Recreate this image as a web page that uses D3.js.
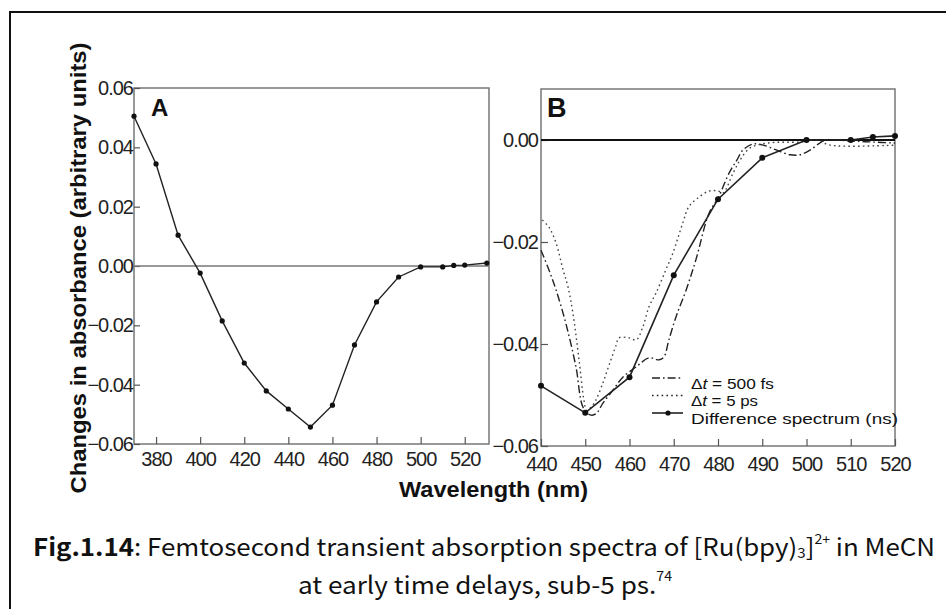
<!DOCTYPE html>
<html>
<head>
<meta charset="utf-8" />
<script src="https://d3js.org/d3.v7.min.js"></script>
<style>
    body { margin: 0; background: #fff; }
    svg text { font-family: "Liberation Sans", Arial, sans-serif; fill: #111; }
    .axis path { stroke: #777; stroke-width: 1.5px; }
    .axis line { stroke: #555; stroke-width: 1.2px; }
    .axis text { font-size: 20px; letter-spacing: -1px; fill: #222; }
    .caption text { font-family: "Noto Sans CJK SC", "Noto Sans", sans-serif; }
</style>
</head>
<body>
<svg width="946" height="609"></svg>
<script>

// panel A: difference spectrum, full range
var wlA = [370, 380, 390, 400, 410, 420, 430, 440, 450, 460, 470, 480, 490, 500, 510, 515, 520, 530];
var absA = [0.0505, 0.0344, 0.0104, -0.0024, -0.0185, -0.0327, -0.0421, -0.0482, -0.0543, -0.0469,
            -0.0266, -0.0121, -0.0037, -0.0003, -0.0003, 0.0002, 0.0003, 0.001];

// panel B: difference spectrum (ns) sampled points
var wlDiff = [440, 450, 460, 470, 480, 490, 500, 510, 515, 520];
var absDiff = [-0.0482, -0.0535, -0.0465, -0.0265, -0.0116, -0.0035, 0.0, 0.0, 0.0006, 0.0008];

// panel B: dt = 500 fs (traced)
var wl500fs = [440, 441.8, 443.4, 445.6, 447.9, 449.5, 451.1, 452.4, 454, 456.3, 458.5, 461.5, 464.4,
               466.7, 467.8, 468.9, 470.5, 472.8, 475, 478, 480, 482.5, 484.3, 485.6, 487.9, 490.2,
               493.3, 496.3, 498.5, 500.8, 503, 504.6, 510, 515, 520];
var abs500fs = [-0.0216, -0.0255, -0.0294, -0.0359, -0.0445, -0.0524, -0.0539, -0.0537, -0.0516,
                -0.049, -0.0465, -0.0445, -0.0427, -0.0431, -0.0425, -0.0392, -0.0347, -0.0294,
                -0.0235, -0.0143, -0.0114, -0.0065, -0.0039, -0.002, -0.0008, -0.001, -0.002,
                -0.0029, -0.0029, -0.002, -0.0006, 0, -0.0002, -0.0004, -0.0006];

// panel B: dt = 5 ps (traced)
var wl5ps = [440.3, 441.8, 443.4, 445, 446.1, 447.2, 448.6, 449.7, 450.3, 451.2, 452.4, 454, 455.4,
             457, 457.6, 459.9, 461.5, 463, 464.4, 466, 468.2, 469.8, 472.1, 473.4, 475.7, 478, 480,
             481.1, 483.4, 485, 487.2, 491.1, 498.5, 502.4, 505.3, 520];
var abs5ps = [-0.0157, -0.0171, -0.0202, -0.0255, -0.0288, -0.0339, -0.0431, -0.051, -0.053, -0.0525,
              -0.051, -0.0476, -0.0441, -0.0402, -0.0388, -0.0388, -0.0392, -0.0367, -0.0327, -0.03,
              -0.0255, -0.0222, -0.0161, -0.0131, -0.0112, -0.01, -0.01, -0.0104, -0.0065, -0.0039,
              -0.0016, -0.0006, -0.0004, 0, -0.001, -0.001];

var ticksAx = [380, 400, 420, 440, 460, 480, 500, 520];
var ticksAy = [-0.06, -0.04, -0.02, 0.00, 0.02, 0.04, 0.06];
var ticksBx = [440, 450, 460, 470, 480, 490, 500, 510, 520];
var ticksBy = [-0.06, -0.04, -0.02, 0.00];

var legendLabels = ["500 fs", "5 ps", "Difference spectrum (ns)"];
var legendWidths = [83, 67, 207];

function zip(xs, ys) {
    return xs.map(function (x, i) { return [x, ys[i]]; });
}

var svg = d3.select("svg");

// outer frame (only top and left edges are in view)
svg.append("path")
    .attr("d", "M10,609V12H946")
    .attr("fill", "none")
    .attr("stroke", "#111")
    .attr("stroke-width", 2);

// ---------- panel A ----------
var xA = d3.scaleLinear().domain([370, 531]).range([134, 489]);
var yA = d3.scaleLinear().domain([-0.06, 0.06]).range([444, 88]);

var gA = svg.append("g");

gA.append("rect")
    .attr("x", xA.range()[0]).attr("y", yA.range()[1])
    .attr("width", xA.range()[1] - xA.range()[0])
    .attr("height", yA.range()[0] - yA.range()[1])
    .attr("fill", "none").attr("stroke", "#777").attr("stroke-width", 1.5);

gA.append("g")
    .attr("class", "axis")
    .attr("transform", "translate(0," + yA.range()[0] + ")")
    .call(d3.axisBottom(xA).tickValues(ticksAx).tickSize(-7).tickPadding(8).tickFormat(d3.format("d")))
    .call(function (g) { g.select(".domain").remove(); });

gA.append("g")
    .attr("class", "axis")
    .attr("transform", "translate(" + xA.range()[0] + ",0)")
    .call(d3.axisLeft(yA).tickValues(ticksAy).tickSize(-6).tickPadding(1).tickFormat(d3.format(".2f")))
    .call(function (g) { g.select(".domain").remove(); });

gA.append("line")
    .attr("x1", xA.range()[0]).attr("x2", xA.range()[1])
    .attr("y1", yA(0)).attr("y2", yA(0))
    .attr("stroke", "#777").attr("stroke-width", 1.5);

var lineA = d3.line().x(function (d) { return xA(d[0]); }).y(function (d) { return yA(d[1]); });
var dataA = zip(wlA, absA);

gA.append("path")
    .attr("d", lineA(dataA))
    .attr("fill", "none").attr("stroke", "#222").attr("stroke-width", 1.4);

gA.selectAll("circle").data(dataA).enter().append("circle")
    .attr("cx", function (d) { return xA(d[0]); })
    .attr("cy", function (d) { return yA(d[1]); })
    .attr("r", 2.6).attr("fill", "#111");

gA.append("text")
    .attr("x", 151).attr("y", 116)
    .attr("font-size", 24).attr("font-weight", "bold")
    .text("A");

// ---------- panel B ----------
var xB = d3.scaleLinear().domain([440, 520]).range([541, 895]);
var yB = d3.scaleLinear().domain([-0.06, 0.01]).range([446, 89]);

var gB = svg.append("g");

gB.append("rect")
    .attr("x", xB.range()[0]).attr("y", yB.range()[1])
    .attr("width", xB.range()[1] - xB.range()[0])
    .attr("height", yB.range()[0] - yB.range()[1])
    .attr("fill", "none").attr("stroke", "#777").attr("stroke-width", 1.5);

gB.append("g")
    .attr("class", "axis")
    .attr("transform", "translate(0," + yB.range()[0] + ")")
    .call(d3.axisBottom(xB).tickValues(ticksBx).tickSize(-7).tickPadding(11).tickFormat(d3.format("d")))
    .call(function (g) { g.select(".domain").remove(); });

gB.append("g")
    .attr("class", "axis")
    .attr("transform", "translate(" + xB.range()[0] + ",0)")
    .call(d3.axisLeft(yB).tickValues(ticksBy).tickSize(-7).tickPadding(3).tickFormat(d3.format(".2f")))
    .call(function (g) { g.select(".domain").remove(); });

gB.append("line")
    .attr("x1", xB.range()[0]).attr("x2", xB.range()[1])
    .attr("y1", yB(0)).attr("y2", yB(0))
    .attr("stroke", "#111").attr("stroke-width", 1.8);

var lineB = d3.line().x(function (d) { return xB(d[0]); }).y(function (d) { return yB(d[1]); });
var lineBsmooth = d3.line().curve(d3.curveCatmullRom.alpha(0.5))
    .x(function (d) { return xB(d[0]); }).y(function (d) { return yB(d[1]); });

var dashDot = "8,3,1.6,3";
var dotted = "1.6,3.2";

gB.append("path")
    .attr("d", lineBsmooth(zip(wl500fs, abs500fs)))
    .attr("fill", "none").attr("stroke", "#222").attr("stroke-width", 1.4)
    .attr("stroke-dasharray", dashDot);

gB.append("path")
    .attr("d", lineBsmooth(zip(wl5ps, abs5ps)))
    .attr("fill", "none").attr("stroke", "#444").attr("stroke-width", 1.4)
    .attr("stroke-dasharray", dotted);

var dataDiff = zip(wlDiff, absDiff);
gB.append("path")
    .attr("d", lineB(dataDiff))
    .attr("fill", "none").attr("stroke", "#222").attr("stroke-width", 1.6);

gB.selectAll("circle").data(dataDiff).enter().append("circle")
    .attr("cx", function (d) { return xB(d[0]); })
    .attr("cy", function (d) { return yB(d[1]); })
    .attr("r", 3).attr("fill", "#111");

gB.append("text")
    .attr("x", 547).attr("y", 117)
    .attr("font-size", 27).attr("font-weight", "bold")
    .text("B");

// legend
var legend = gB.append("g").attr("transform", "translate(652,378)");
var legendDash = [dashDot, dotted, null];
legendLabels.forEach(function (lab, i) {
    var row = legend.append("g").attr("transform", "translate(0," + (i * 17.5) + ")");
    row.append("line")
        .attr("x1", 0).attr("x2", 31).attr("y1", 0).attr("y2", 0)
        .attr("stroke", "#222").attr("stroke-width", i === 2 ? 1.6 : 1.4)
        .attr("stroke-dasharray", legendDash[i]);
    if (i === 2) {
        row.append("circle").attr("cx", 16).attr("cy", 0).attr("r", 2.6).attr("fill", "#111");
    }
    var t = row.append("text").attr("x", 39).attr("y", 10.5).attr("font-size", 15.5)
        .attr("textLength", legendWidths[i]).attr("lengthAdjust", "spacingAndGlyphs");
    if (i < 2) {
        t.append("tspan").text("\u0394");
        t.append("tspan").attr("font-style", "italic").text("t");
        t.append("tspan").text(" = " + lab);
    } else {
        t.text(lab);
    }
});

// axis titles
svg.append("text")
    .attr("transform", "translate(86,268) rotate(-90)")
    .attr("text-anchor", "middle")
    .attr("font-size", 22).attr("font-weight", "bold")
    .attr("textLength", 451).attr("lengthAdjust", "spacingAndGlyphs")
    .text("Changes in absorbance (arbitrary units)");

svg.append("text")
    .attr("x", 399).attr("y", 497)
    .attr("font-size", 22).attr("font-weight", "bold")
    .attr("textLength", 189).attr("lengthAdjust", "spacingAndGlyphs")
    .text("Wavelength (nm)");

// caption
var cap = svg.append("g").attr("class", "caption");
var l1 = cap.append("text")
    .attr("x", 33).attr("y", 556).attr("font-size", 24)
    .attr("textLength", 902).attr("lengthAdjust", "spacingAndGlyphs");
l1.append("tspan").attr("font-weight", "bold").text("Fig.1.14");
l1.append("tspan").text(": Femtosecond transient absorption spectra of [Ru(bpy)");
l1.append("tspan").attr("font-size", 14).attr("dy", 2).text("3");
l1.append("tspan").attr("dy", -2).text("]");
l1.append("tspan").attr("font-size", 13).attr("dy", -12).text("2+");
l1.append("tspan").attr("dy", 12).text(" in MeCN");

var l2 = cap.append("text")
    .attr("x", 298).attr("y", 594).attr("font-size", 24)
    .attr("textLength", 374).attr("lengthAdjust", "spacingAndGlyphs");
l2.append("tspan").text("at early time delays, sub-5 ps.");
l2.append("tspan").attr("font-size", 13).attr("dy", -13).text("74");

</script>
</body>
</html>
